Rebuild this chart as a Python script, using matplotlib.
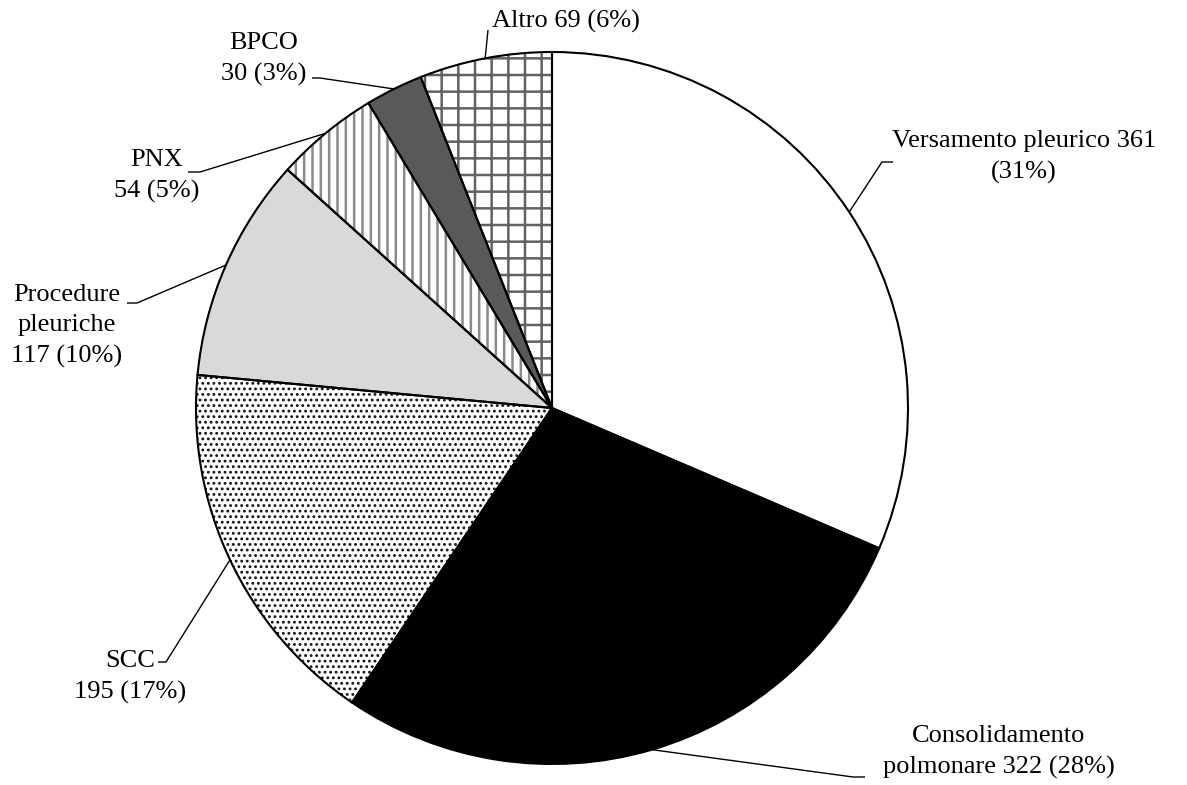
import numpy as np
import matplotlib.pyplot as plt

plt.rcParams['font.family'] = ['Liberation Serif', 'DejaVu Serif']
plt.rcParams['hatch.linewidth'] = 1.8

# data
categories = ['Versamento pleurico', 'Consolidamento polmonare', 'SCC',
              'Procedure pleuriche', 'PNX', 'BPCO', 'Altro']
values = [361, 322, 195, 117, 54, 30, 69]

# how each label is broken into lines
label_fmt = ['Versamento pleurico {v}\n({p}%)',
             'Consolidamento\npolmonare {v} ({p}%)',
             'SCC\n{v} ({p}%)',
             'Procedure\npleuriche\n{v} ({p}%)',
             'PNX\n{v} ({p}%)',
             'BPCO\n{v} ({p}%)',
             'Altro {v} ({p}%)']

# styles
face_colors = ['white', 'black', 'white', '#d9d9d9', 'white', '#595959', 'white']
hatches = [None, None, '...', None, '||', None, '+']
hatch_colors = ['black', 'black', '#111111', 'black', '#8a8a8a', 'black', '#626262']
hatch_widths = [None, None, 1.25, None, None, None, None]

# label layout in pixels: text centre, leader elbow, leader tail
text_pos = [(1024, 157), (999, 752), (130, 677), (67, 326), (157, 176), (264, 59), (566, 21)]
elbow_pos = [(882, 162), (853, 777), (166, 662), (137, 303), (200, 172), (320, 78), (488, 30)]
tail_pos = [(893, 162), (865, 777), (158, 662), (127, 303), (188, 172), (312, 78), (488, 30)]

W, H = 1187, 785
CX, CY, R = 552, 408, 356


def to_data(x, y):
    return (x - CX) / R, (CY - y) / R


fig = plt.figure(figsize=(W / 100, H / 100), dpi=100)
ax = fig.add_axes([0, 0, 1, 1])

# filled wedges with hatching
fills, _ = ax.pie(values, startangle=90, counterclock=False, colors=face_colors,
                  radius=1, wedgeprops=dict(linewidth=0))
for w, h, hc, hw in zip(fills, hatches, hatch_colors, hatch_widths):
    if h:
        w.set_hatch(h)
        w.set_edgecolor(hc)
        if hw and hasattr(w, 'set_hatch_linewidth'):
            w.set_hatch_linewidth(hw)

# black outlines on top
outlines, _ = ax.pie(values, startangle=90, counterclock=False, radius=1,
                     wedgeprops=dict(facecolor='none', edgecolor='black', linewidth=1.5))

total = sum(values)
for w, v, fmt, tp, ep, tl in zip(outlines, values, label_fmt, text_pos, elbow_pos, tail_pos):
    ang = np.deg2rad((w.theta1 + w.theta2) / 2)
    x0, y0 = np.cos(ang), np.sin(ang)
    ex, ey = to_data(*ep)
    tx, ty = to_data(*tl)
    ax.plot([x0, ex, tx], [y0, ey, ty], color='black', lw=1.0, solid_capstyle='butt')
    px, py = to_data(*tp)
    ax.text(px, py, fmt.format(v=v, p=round(100 * v / total)), ha='center', va='center',
            fontsize=19, linespacing=1.5, multialignment='center')

ax.set_aspect('auto')
ax.set_xlim(-CX / R, (W - CX) / R)
ax.set_ylim(-(H - CY) / R, CY / R)
ax.axis('off')

fig.savefig('out.png', dpi=100)
